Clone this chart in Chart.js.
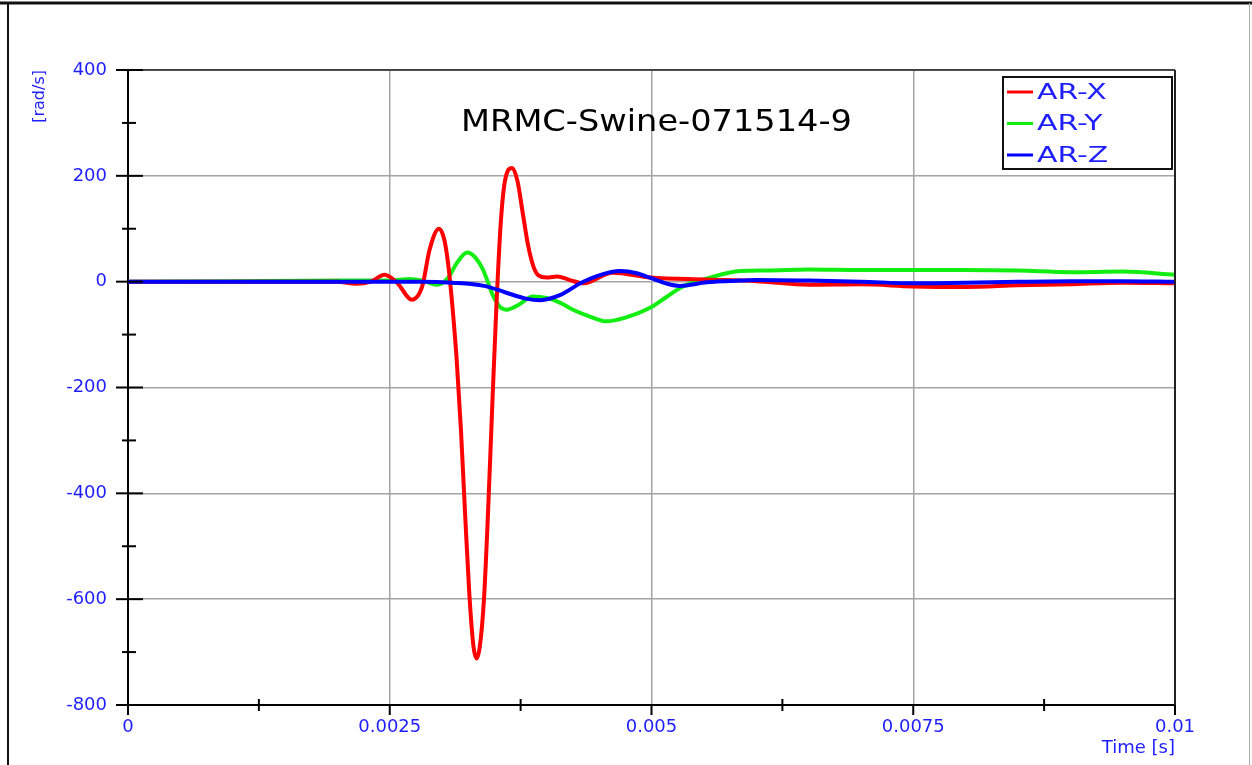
<!DOCTYPE html>
<html>
<head>
<meta charset="utf-8">
<title>MRMC-Swine-071514-9</title>
<script src="https://cdn.jsdelivr.net/npm/chart.js@4.4.0/dist/chart.umd.min.js"></script>
<style>
    html, body { margin: 0; padding: 0; background: #fff; overflow: hidden; }
    #chartCanvasId { display: block; }
</style>
</head>
<body>
<canvas id="chartCanvasId" width="1252" height="765"></canvas>
<script>
"use strict";

// chart text
const chartTitle   = "MRMC-Swine-071514-9"
const seriesNames  = ["AR-X", "AR-Y", "AR-Z"]
const seriesColors = ["#ff0000", "#12ee12", "#0000ff"]
const xTickLabels  = ["0", "0.0025", "0.005", "0.0075", "0.01"]
const yTickLabels  = ["400", "200", "0", "-200", "-400", "-600", "-800"]

// AR-X (red), time in s / rate in rad/s
const timeX = [0, 0.0010, 0.0020, 0.00218, 0.00232, 0.00245, 0.00257, 0.00271, 0.00281, 0.00288,
               0.00297, 0.00302, 0.00306, 0.00310, 0.00314, 0.00318, 0.00322, 0.00326, 0.00330, 0.00333,
               0.00336, 0.00340, 0.00344, 0.00348, 0.00352, 0.00356, 0.00360, 0.00367, 0.00372, 0.00377,
               0.00382, 0.00387, 0.00392, 0.00400, 0.00410, 0.00422, 0.00435, 0.00463, 0.00499, 0.0055,
               0.0060, 0.0065, 0.0070, 0.0075, 0.0080, 0.0085, 0.0090, 0.0095, 0.0100]
const arX   = [0, 0, 0, -4, 0, 13, -2, -34, -9, 60,
               100, 80, 30, -50, -150, -280, -440, -590, -690, -712,
               -690, -600, -430, -230, -40, 110, 190, 215, 190, 130,
               70, 30, 12, 8, 10, 3, -3, 17, 8, 4,
               1, -6, -5, -9, -10, -7, -5, -2, -3]

// AR-Y (green)
const timeY = [0, 0.0010, 0.0020, 0.00250, 0.00269, 0.00283, 0.00295, 0.00306, 0.00314, 0.00324,
               0.00332, 0.00339, 0.00349, 0.00355, 0.00362, 0.00372, 0.00387, 0.00400, 0.00413, 0.00425,
               0.00440, 0.00457, 0.00475, 0.00499, 0.00515, 0.00530, 0.00553, 0.00585, 0.00610, 0.0065,
               0.0070, 0.0075, 0.0080, 0.0085, 0.0090, 0.0095, 0.0100]
const arY   = [0, 1, 2, 2, 5, 1, -6, 8, 35, 55,
               45, 23, -28, -47, -53, -45, -28, -31, -40, -53,
               -65, -75, -68, -49, -28, -9, 6, 20, 21, 23,
               22, 22, 22, 21, 18, 19, 13]

// AR-Z (blue)
const timeZ = [0, 0.0010, 0.0020, 0.0028, 0.0031, 0.0034, 0.0036, 0.0038, 0.00394, 0.00413,
               0.00432, 0.0045, 0.0047, 0.00486, 0.00499, 0.00515, 0.00527, 0.00553, 0.00585, 0.0060,
               0.0065, 0.0070, 0.0075, 0.0080, 0.0085, 0.0090, 0.0095, 0.0100]
const arZ   = [0, 0, 0, 0, -2, -8, -20, -32, -35, -25,
               -3, 12, 20, 16, 7, -4, -8, -1, 2, 3,
               2, 0, -3, -2, 0, 1, 1, 0]

const blueText = "#1e1eff"
const gridGray = "#a4a4a4"

let chartCanvas  = document.getElementById('chartCanvasId')
let chartContext = chartCanvas.getContext('2d')
let myChart      = undefined

Chart.defaults.font.family = '"DejaVu Sans", sans-serif'

function toPoints(times, values) {
    return times.map((t, i) => ({ x: t, y: values[i] }))
}

function line(ctx, x1, y1, x2, y2) {
    ctx.beginPath()
    ctx.moveTo(x1, y1)
    ctx.lineTo(x2, y2)
    ctx.stroke()
}

// text a bit wider than the font, like the original picture
function wideText(ctx, text, x, y, sx) {
    ctx.save()
    ctx.translate(x, y)
    ctx.scale(sx, 1)
    ctx.fillText(text, 0, 0)
    ctx.restore()
}

function isMajorX(value) { return Math.round(value / 0.00125) % 2 === 0 }
function isMajorY(value) { return Math.round((400 - value) / 100) % 2 === 0 }

// frame, tick marks, title and legend box
const framePlugin = {
    id: 'frame',
    afterDraw(chart) {
        const ctx  = chart.ctx
        const area = chart.chartArea
        const xs   = chart.scales.x
        const ys   = chart.scales.y
        ctx.save()

        ctx.strokeStyle = '#111'
        ctx.lineWidth = 3
        line(ctx, 0, 3, 1252, 3)
        ctx.lineWidth = 2
        line(ctx, 8, 3, 8, 765)
        ctx.strokeStyle = '#aaa'
        ctx.lineWidth = 1
        line(ctx, 1249.5, 3, 1249.5, 765)

        ctx.strokeStyle = '#222'
        ctx.lineWidth = 1.5
        line(ctx, area.left - 12, area.top, area.right, area.top)
        ctx.lineWidth = 2
        line(ctx, area.right, area.top, area.right, area.bottom + 10)

        ctx.strokeStyle = '#000'
        ctx.lineWidth = 2
        ys.ticks.forEach(t => {
            const y = ys.getPixelForValue(t.value)
            if (isMajorY(t.value)) line(ctx, area.left - 12, y, area.left + 15, y)
            else line(ctx, area.left - 6, y, area.left + 8, y)
        })
        xs.ticks.forEach(t => {
            const x = xs.getPixelForValue(t.value)
            if (isMajorX(t.value)) line(ctx, x, area.bottom, x, area.bottom + 10)
            else line(ctx, x, area.bottom - 6, x, area.bottom + 6)
        })

        ctx.fillStyle = '#000'
        ctx.font = '30px "DejaVu Sans"'
        ctx.textAlign = 'center'
        ctx.textBaseline = 'middle'
        wideText(ctx, chartTitle, (area.left + area.right) / 2 + 5, 123, 1.12)

        // legend
        ctx.strokeStyle = '#111'
        ctx.lineWidth = 2
        ctx.strokeRect(1003, 77, 169, 92)
        ctx.font = '22px "DejaVu Sans"'
        ctx.textAlign = 'left'
        chart.data.datasets.forEach((ds, i) => {
            const y = 92 + i * 31.5
            ctx.strokeStyle = ds.borderColor
            ctx.lineWidth = 3
            line(ctx, 1007, y, 1033, y)
            ctx.fillStyle = blueText
            wideText(ctx, ds.label, 1037, y + 1, 1.36)
        })
        ctx.restore()
    }
}

function createChart() {
    myChart = new Chart(chartContext, {
        type: 'line',
        data: {
            datasets: [
                { label: seriesNames[0], data: toPoints(timeX, arX), borderColor: seriesColors[0], order: 1 },
                { label: seriesNames[1], data: toPoints(timeY, arY), borderColor: seriesColors[1], order: 2 },
                { label: seriesNames[2], data: toPoints(timeZ, arZ), borderColor: seriesColors[2], order: 0 },
            ]
        },
        options: {
            responsive: false,
            animation: false,
            layout: { padding: { top: 70, right: 77, left: 0, bottom: 0 } },
            elements: {
                point: { radius: 0 },
                line: { borderWidth: 4, cubicInterpolationMode: 'monotone', fill: false }
            },
            plugins: {
                legend: { display: false },
                tooltip: { enabled: false }
            },
            scales: {
                x: {
                    type: 'linear',
                    min: 0,
                    max: 0.01,
                    afterFit: s => { s.height = 60 },
                    border: { color: '#000', width: 2 },
                    grid: {
                        color: c => isMajorX(c.tick.value) ? gridGray : 'rgba(0,0,0,0)',
                        lineWidth: 1.5,
                        drawTicks: false
                    },
                    ticks: {
                        stepSize: 0.00125,
                        autoSkip: false,
                        maxRotation: 0,
                        padding: 12,
                        color: blueText,
                        font: { size: 18 },
                        callback: v => {
                            const i = Math.round(v / 0.00125)
                            return i % 2 === 0 ? xTickLabels[i / 2] : ''
                        }
                    },
                    title: {
                        display: true,
                        text: 'Time [s]',
                        align: 'end',
                        color: blueText,
                        font: { size: 18 },
                        padding: { top: 0, bottom: 6 }
                    }
                },
                y: {
                    min: -800,
                    max: 400,
                    afterFit: s => { s.width = 128 },
                    border: { color: '#000', width: 2 },
                    grid: {
                        color: c => isMajorY(c.tick.value) ? gridGray : 'rgba(0,0,0,0)',
                        lineWidth: 1.5,
                        drawTicks: false
                    },
                    ticks: {
                        stepSize: 100,
                        autoSkip: false,
                        padding: 21,
                        color: blueText,
                        font: { size: 18 },
                        callback: v => {
                            const i = Math.round((400 - v) / 100)
                            return i % 2 === 0 ? yTickLabels[i / 2] : ''
                        }
                    },
                    title: {
                        display: true,
                        text: '[rad/s]',
                        align: 'end',
                        color: blueText,
                        font: { size: 16 },
                        padding: { top: 30, bottom: 0 }
                    }
                }
            }
        },
        plugins: [framePlugin]
    })
}

createChart()
</script>
</body>
</html>
